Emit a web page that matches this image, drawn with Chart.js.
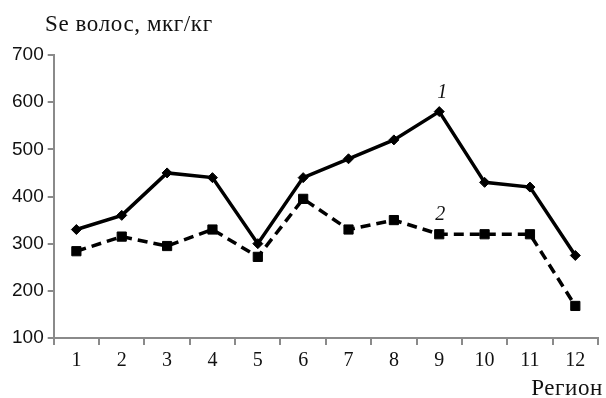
<!DOCTYPE html>
<html>
<head>
<meta charset="utf-8">
<script src="https://cdn.jsdelivr.net/npm/chart.js@4"></script>
<style>
  html, body { margin: 0; padding: 0; background: #fff; }
  #wrap { width: 606px; height: 398px; }
</style>
</head>
<body>
<div id="wrap"><canvas id="chart" width="606" height="398"></canvas></div>
<script>
// regions 1..12 and hair Se levels for the two groups
const regions = ['1', '2', '3', '4', '5', '6', '7', '8', '9', '10', '11', '12'];
const series1 = [330, 360, 450, 440, 300, 440, 480, 520, 580, 430, 420, 275];
const series2 = [284, 315, 295, 330, 272, 395, 330, 350, 320, 320, 320, 168];
const yTicks = [100, 200, 300, 400, 500, 600, 700];

const axisGray = '#8a8a8a';
const serif = '"Liberation Serif", "Times New Roman", serif';

// text that sits outside the axes: y title, x title and curve numbers
const extraText = {
    id: 'extraText',
    afterDraw(chart) {
        const ctx = chart.ctx;
        const x = chart.scales.x, y = chart.scales.y;
        ctx.save();
        ctx.fillStyle = '#111';
        ctx.textBaseline = 'alphabetic';
        ctx.font = '23px ' + serif;
        ctx.letterSpacing = '0.6px';
        ctx.textAlign = 'left';
        ctx.fillText('Se волос, мкг/кг', 45, 31);
        ctx.textAlign = 'right';
        ctx.fillText('Регион', 603, 395);
        ctx.letterSpacing = '0px';
        ctx.font = 'italic 20px ' + serif;
        ctx.textAlign = 'center';
        ctx.fillText('1', x.getPixelForValue(8) + 3, y.getPixelForValue(580) - 14);
        ctx.fillText('2', x.getPixelForValue(8) + 1, y.getPixelForValue(320) - 14);
        ctx.restore();
    }
};

new Chart(document.getElementById('chart'), {
    type: 'line',
    data: {
        labels: regions,
        datasets: [{
            label: '1',
            data: series1,
            borderColor: '#000',
            backgroundColor: '#000',
            borderWidth: 3.5,
            pointStyle: 'rectRot',
            pointRadius: 5,
            pointBorderWidth: 1,
            tension: 0
        }, {
            label: '2',
            data: series2,
            borderColor: '#000',
            backgroundColor: '#000',
            borderWidth: 3.5,
            borderDash: [10, 6],
            pointStyle: 'rect',
            pointRadius: 6.5,
            pointBorderWidth: 1,
            tension: 0
        }]
    },
    options: {
        responsive: false,
        animation: false,
        layout: { padding: { left: 8, right: 8, top: 55, bottom: 21 } },
        plugins: {
            legend: { display: false },
            tooltip: { enabled: false }
        },
        scales: {
            x: {
                offset: true,
                grid: {
                    offset: true,
                    drawOnChartArea: false,
                    color: axisGray,
                    tickLength: 7,
                    lineWidth: 2
                },
                border: { color: axisGray, width: 2 },
                ticks: {
                    color: '#111',
                    padding: 4,
                    font: { family: serif, size: 20 }
                }
            },
            y: {
                min: 100,
                max: 700,
                afterBuildTicks(scale) {
                    scale.ticks = yTicks.map(v => ({ value: v }));
                },
                grid: {
                    drawOnChartArea: false,
                    color: axisGray,
                    tickLength: 6,
                    lineWidth: 2
                },
                border: { color: axisGray, width: 2 },
                ticks: {
                    color: '#111',
                    padding: 4,
                    font: { family: '"Liberation Sans", Arial, sans-serif', size: 19 }
                }
            }
        }
    },
    plugins: [extraText]
});
</script>
</body>
</html>
